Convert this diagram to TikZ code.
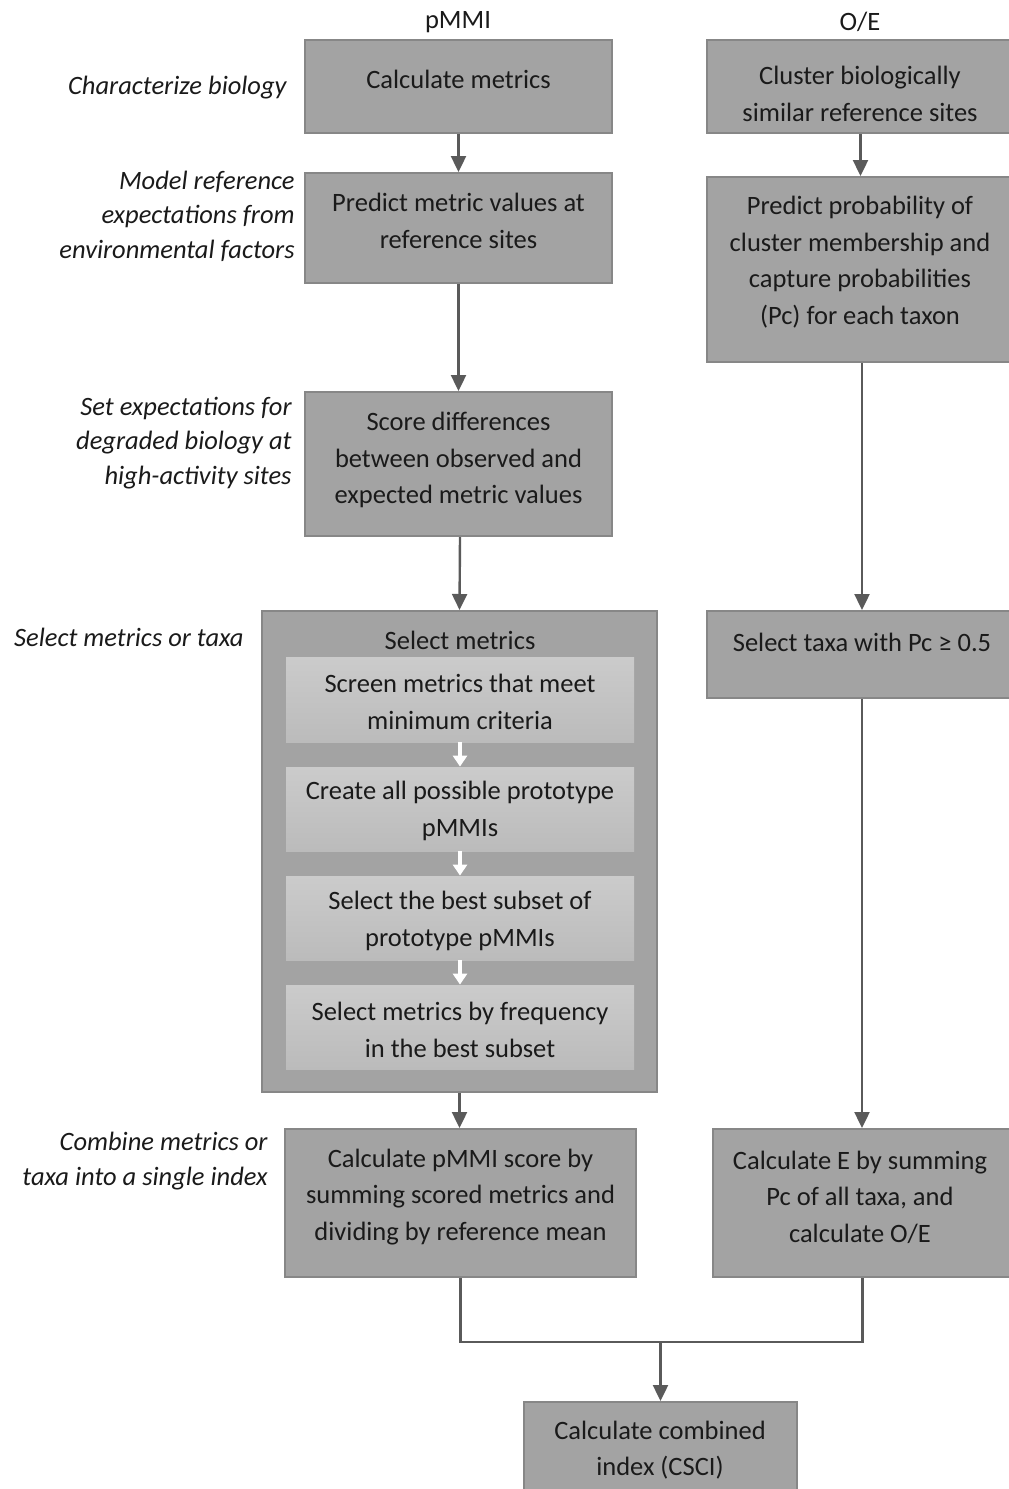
\documentclass[tikz,border=0pt]{standalone}
\usepackage{fontspec}
\setmainfont{Carlito}
\usetikzlibrary{arrows.meta,calc}
\definecolor{boxfill}{HTML}{A3A3A3}
\definecolor{boxline}{HTML}{878787}
\definecolor{innertop}{HTML}{CBCBCB}
\definecolor{innerbot}{HTML}{BBBBBB}
\definecolor{arrcol}{HTML}{5A5A5A}
\definecolor{txtcol}{HTML}{1A1A1A}
\begin{document}
\begin{tikzpicture}[x=0.5pt,y=-0.5pt,
  every node/.style={text=txtcol},
  box/.style={draw=boxline, fill=boxfill, line width=1pt, inner sep=0pt, rectangle},
  inbox/.style={rectangle, inner sep=0pt, top color=innertop, bottom color=innerbot, draw=none},
  txt/.style={align=center, font=\fontsize{13.25pt}{18.3pt}\selectfont, inner sep=0pt},
  lbl/.style={align=right, anchor=east, font=\fontsize{13.25pt}{17.2pt}\selectfont\itshape, inner sep=0pt},
  arr/.style={draw=arrcol, line width=1.2pt, -{Triangle[length=8pt,width=7.5pt]}},
  warr/.style={draw=white, line width=1.8pt, -{Triangle[length=5.5pt,width=7pt]}},
  conn/.style={draw=arrcol, line width=1.2pt}
]
\useasboundingbox (0,0) rectangle (1008,1489);

% headers
\node[txt] (hp) at (458,22) {pMMI};
\node[txt] (ho) at (860,22) {O/E};

% pMMI boxes
\node[box, minimum width=153.5pt, minimum height=46.5pt] (b1) at (458.5,86.5) {};
\node[txt] (t1) at (458.5,79) {Calculate metrics};
\node[box, minimum width=153.5pt, minimum height=55pt] (b2) at (458.5,228) {};
\node[txt] (t2) at (458.5,221) {Predict metric values at\\reference sites};
\node[box, minimum width=153.5pt, minimum height=72pt] (b3) at (458.5,464) {};
\node[txt] (t3) at (458.5,460) {Score differences\\between observed and\\expected metric values};

% select metrics
\node[box, minimum width=197.5pt, minimum height=240.5pt] (sel) at (459.5,851.5) {};
\node[txt] (tsel) at (460,640) {Select metrics};
\node[inbox, minimum width=174pt, minimum height=42.5pt] (i1) at (460,699.5) {};
\node[txt] (ti1) at (460,702) {Screen metrics that meet\\minimum criteria};
\node[inbox, minimum width=174pt, minimum height=42pt] (i2) at (460,809) {};
\node[txt] (ti2) at (460,811) {Create all possible prototype\\pMMIs};
\node[inbox, minimum width=174pt, minimum height=42pt] (i3) at (460,918) {};
\node[txt] (ti3) at (460,921) {Select the best subset of\\prototype pMMIs};
\node[inbox, minimum width=174pt, minimum height=42pt] (i4) at (460,1027) {};
\node[txt] (ti4) at (460,1030) {Select metrics by frequency\\in the best subset};

\node[box, minimum width=175.5pt, minimum height=74pt] (b4) at (460.5,1203) {};
\node[txt] (t4) at (460.5,1197) {Calculate pMMI score by\\summing scored metrics and\\dividing by reference mean};

% O/E boxes
\node[box, minimum width=152.5pt, minimum height=46.5pt] (o1) at (859.5,86.5) {};
\node[txt] (u1) at (860,94) {Cluster biologically\\similar reference sites};
\node[box, minimum width=152.5pt, minimum height=92.5pt] (o2) at (859.5,269.5) {};
\node[txt] (u2) at (860,262) {Predict probability of\\cluster membership and\\capture probabilities\\(Pc) for each taxon};
\node[box, minimum width=152.5pt, minimum height=43.5pt] (o3) at (859.5,654.5) {};
\node[txt] (u3) at (862,642) {Select taxa with Pc ≥ 0.5};
\node[box, minimum width=149.5pt, minimum height=74pt] (o4) at (862.5,1203) {};
\node[txt] (u4) at (860,1197) {Calculate E by summing\\Pc of all taxa, and\\calculate O/E};

% combined
\node[box, minimum width=136.5pt, minimum height=46.5pt] (cs) at (660.5,1448.5) {};
\node[txt] (tc) at (660,1450) {Calculate combined\\index (CSCI)};

% left labels
\node[lbl] (l1) at (287,88) {Characterize biology};
\node[lbl] (l2) at (295,216) {Model reference\\expectations from\\environmental factors};
\node[lbl] (l3) at (292,443) {Set expectations for\\degraded biology at\\high-activity sites};
\node[lbl] (l4) at (244,637) {Select metrics or taxa};
\node[lbl] (l5) at (268,1161) {Combine metrics or\\taxa into a single index};

% arrows pMMI
\draw[arr] (b1.south) -- (b2.north);
\draw[arr] (b2.south) -- (b3.north);
\draw[arr] ($(b3.south)+(1.5,0)$) -- (sel.north);
\draw[arr] (sel.south) -- (b4.north -| sel.south);
\draw[warr] (i1.south) -- (i2.north);
\draw[warr] (i2.south) -- (i3.north);
\draw[warr] (i3.south) -- (i4.north);

% arrows O/E
\draw[arr] ($(o1.south)+(1,0)$) -- ($(o2.north)+(1,0)$);
\draw[arr] ($(o2.south)+(2.5,0)$) -- ($(o3.north)+(2.5,0)$);
\draw[arr] ($(o3.south)+(2.5,0)$) -- (o4.north -| 862,0);

% join
\coordinate (j) at (660.5,1342);
\draw[conn] (b4.south) -- (b4.south |- j) -- (o4.south |- j) -- (o4.south);
\draw[arr] (j) -- (cs.north);
\end{tikzpicture}
\end{document}
